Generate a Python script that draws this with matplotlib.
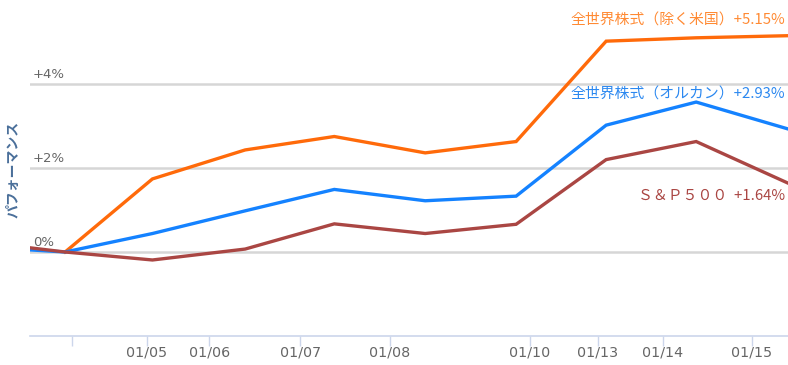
import numpy as np
import matplotlib
matplotlib.use("Agg")
import matplotlib.pyplot as plt

plt.rcParams["font.family"] = ["Noto Sans CJK JP", "DejaVu Sans"]

# x positions of data points (trading-day units, irregular spacing as in source)
x_points = [-0.39, 0.0, 0.97, 2.0, 2.99, 4.0, 5.01, 6.01, 7.01, 8.03]

# performance in %
ex_us = [np.nan, 0.0, 1.74, 2.43, 2.75, 2.36, 2.63, 5.02, 5.10, 5.15]
all_country = [0.05, 0.0, 0.44, 0.98, 1.49, 1.22, 1.33, 3.02, 3.57, 2.93]
sp500 = [0.10, 0.0, -0.19, 0.07, 0.67, 0.44, 0.66, 2.20, 2.63, 1.64]

tick_pos = [0.08, 0.91, 1.6, 2.61, 3.61, 5.16, 5.92, 6.64, 7.63]
tick_labels = ["", "01/05", "01/06", "01/07", "01/08", "01/10", "01/13", "01/14", "01/15"]

y_ticks = [0, 2, 4]
y_labels = ["0%", "+2%", "+4%"]

series_names = ["全世界株式（除く米国）+5.15%", "全世界株式（オルカン）+2.93%", "Ｓ＆Ｐ５００  +1.64%"]
line_colors = ["#ff6a0a", "#1482ff", "#aa4643"]
label_colors = ["#ff8a33", "#2b88f0", "#aa4643"]

fig = plt.figure(figsize=(7.88, 3.65), dpi=100)
ax = fig.add_axes([30 / 788, 29 / 365, 758 / 788, 336 / 365])
ax.set_xlim(-0.39, 8.03)
ax.set_ylim(-2, 6)

for yv in y_ticks:
    ax.axhline(yv, color="#d6d6d6", lw=1.8, zorder=1)

for vals, c in zip([ex_us, all_country, sp500], line_colors):
    ax.plot(x_points, vals, color=c, lw=2.4, zorder=3, solid_joinstyle="miter")

# y labels drawn above gridlines at the left
for yv, lab in zip(y_ticks, y_labels):
    ax.text(0.004, yv + 0.08, lab, transform=ax.get_yaxis_transform(),
            ha="left", va="bottom", fontsize=9.5, color="#666666",
            family="DejaVu Sans", zorder=2)

# series labels
label_y = [5.5, 3.75, 1.33]
for name, yv, c in zip(series_names, label_y, label_colors):
    ax.text(0.996, yv, name, transform=ax.get_yaxis_transform(),
            ha="right", va="center", fontsize=10.7, color=c, zorder=4)

ax.set_yticks([])
ax.set_xticks(tick_pos)
ax.set_xticklabels(tick_labels, fontsize=10.3, color="#666666", family="DejaVu Sans")
ax.tick_params(axis="x", length=7, width=1, color="#ccd6eb", pad=0)

for s in ["top", "right", "left"]:
    ax.spines[s].set_visible(False)
ax.spines["bottom"].set_color("#ccd6eb")
ax.spines["bottom"].set_linewidth(1.2)

fig.text(13 / 788, 1 - 169 / 365, "パフォーマンス", rotation=90, ha="center",
         va="center", fontsize=10, color="#4a6f9a", fontweight="bold")

fig.savefig("out.png", dpi=100)
